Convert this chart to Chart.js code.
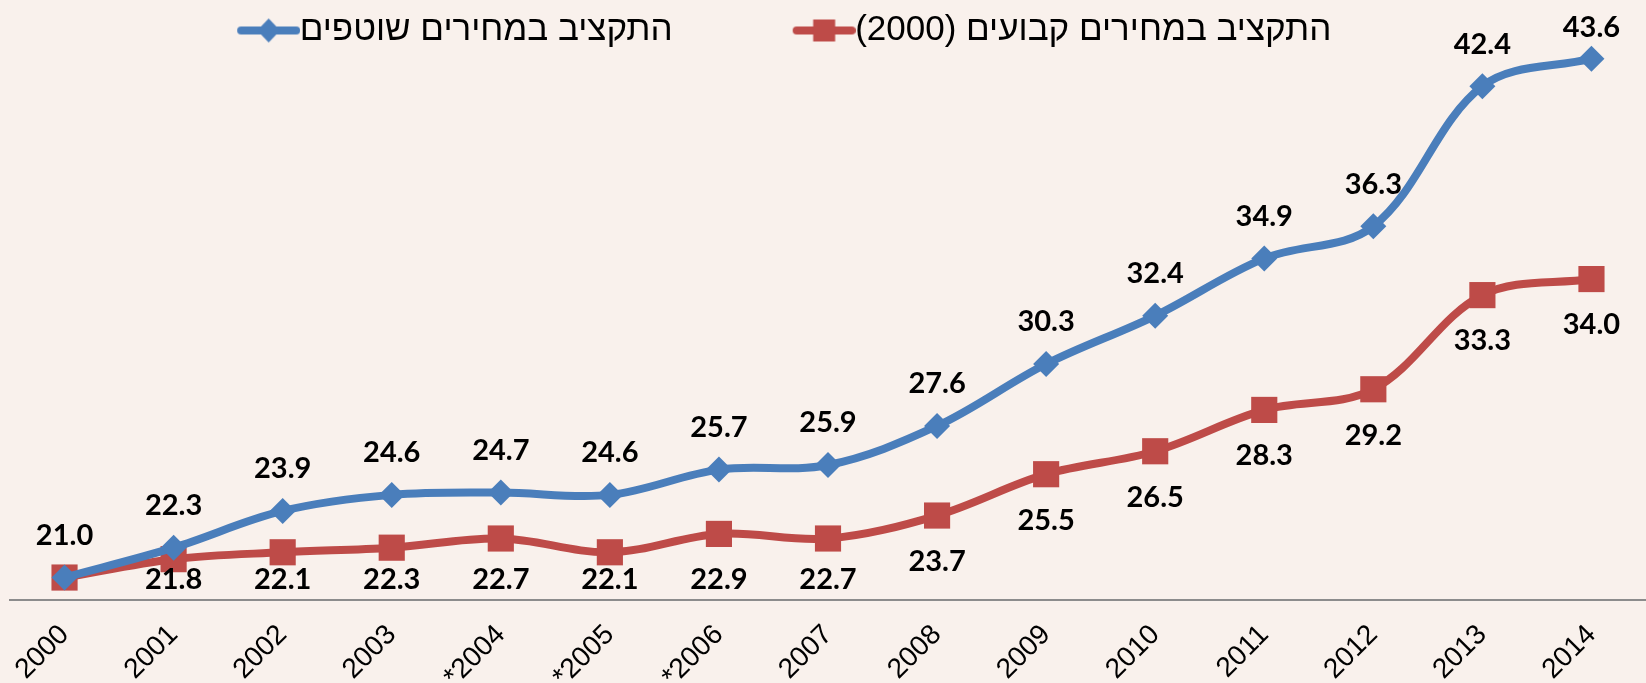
<!DOCTYPE html>
<html>
<head>
<meta charset="utf-8">
<script src="https://cdn.jsdelivr.net/npm/chart.js@4.4.1/dist/chart.umd.min.js"></script>
<style>
html,body{margin:0;padding:0;background:#f9f1ec;}
#wrap{width:1646px;height:683px;position:relative;}
</style>
</head>
<body>
<div id="wrap"><canvas id="graph"></canvas></div>
<script>
const years=["2000","2001","2002","2003","*2004","*2005","*2006","2007","2008","2009","2010","2011","2012","2013","2014"];
const shotfim=[21.0,22.3,23.9,24.6,24.7,24.6,25.7,25.9,27.6,30.3,32.4,34.9,36.3,42.4,43.6];
const kvuim=[21.0,21.8,22.1,22.3,22.7,22.1,22.9,22.7,23.7,25.5,26.5,28.3,29.2,33.3,34.0];

const blue="#4a7ebb";
const red="#be4b48";
const pxPerUnit=22.96;

// legend icon: line with marker, drawn in the right part of the image
function legendIcon(color,shape){
    const c=document.createElement("canvas");
    c.width=81;c.height=28;
    const ctx=c.getContext("2d");
    ctx.strokeStyle=color;
    ctx.lineWidth=8;
    ctx.lineCap="round";
    ctx.beginPath();
    ctx.moveTo(22,14);ctx.lineTo(77,14);
    ctx.stroke();
    ctx.fillStyle=color;
    ctx.beginPath();
    if(shape=="diamond"){
        ctx.moveTo(49.5,2);ctx.lineTo(61,14);ctx.lineTo(49.5,26);ctx.lineTo(38,14);
    }else{
        ctx.rect(38.5,3,22,22);
    }
    ctx.fill();
    return c;
}

// keep the same vertical scale whatever height the legend takes
const fixScale={
    id:"fixScale",
    afterLayout(chart){
        const y=chart.scales.y;
        y.max=20+(y.bottom-y.top)/pxPerUnit;
        y.configure();
    }
};

const valueLabels={
    id:"valueLabels",
    afterDatasetsDraw(chart){
        const ctx=chart.ctx;
        ctx.save();
        ctx.font="bold 29px Lato, 'Open Sans', sans-serif";
        ctx.fillStyle="#000";
        ctx.textAlign="center";
        ctx.textBaseline="middle";
        chart.data.datasets.forEach((ds,i)=>{
            const meta=chart.getDatasetMeta(i);
            meta.data.forEach((pt,j)=>{
                let y;
                if(i==0){
                    y=Math.max(pt.y-42,28);
                }else{
                    if(ds.data[j]==shotfim[j]) return; // same point, label shown once
                    y=Math.min(pt.y+46,580);
                }
                ctx.fillText(ds.data[j].toFixed(1),pt.x,y);
            });
        });
        ctx.restore();
    }
};

const data={
    labels:years,
    datasets:[{
        label:"התקציב במחירים שוטפים",
        data:shotfim,
        borderColor:blue,
        backgroundColor:blue,
        borderWidth:8,
        pointStyle:"rectRot",
        pointRadius:13,
        pointBorderWidth:0,
        tension:0.35,
        clip:false
    },{
        label:"התקציב במחירים קבועים (2000)",
        data:kvuim,
        borderColor:red,
        backgroundColor:red,
        borderWidth:8,
        pointStyle:"rect",
        pointRadius:18.5,
        pointBorderWidth:0,
        tension:0.35,
        clip:false
    }]
};

const icons=[legendIcon(blue,"diamond"),legendIcon(red,"square")];
const gaps=["           ","         "];

new Chart("graph",{
    type:"line",
    data,
    options:{
        responsive:true,
        maintainAspectRatio:false,
        animation:false,
        layout:{autoPadding:false,padding:{left:10,right:0,top:0,bottom:-21}},
        plugins:{
            legend:{
                position:"top",
                labels:{
                    usePointStyle:true,
                    pointStyleWidth:45,
                    padding:13,
                    color:"#000",
                    font:{family:"'Liberation Sans', Arial, sans-serif",size:35},
                    generateLabels(chart){
                        return chart.data.datasets.map((ds,i)=>({
                            text:"\u202B"+ds.label+"\u202C"+gaps[i],
                            pointStyle:icons[i],
                            fillStyle:ds.borderColor,
                            strokeStyle:ds.borderColor,
                            lineWidth:0,
                            datasetIndex:i
                        }));
                    }
                }
            },
            tooltip:{enabled:false}
        },
        scales:{
            x:{
                offset:true,
                grid:{display:false},
                border:{display:true,color:"#8c8c8c",width:2},
                ticks:{
                    color:"#000",
                    padding:10,
                    minRotation:45,
                    maxRotation:45,
                    autoSkip:false,
                    font:{family:"'Liberation Sans', Arial, sans-serif",size:28}
                },
                afterFit(scale){
                    scale.paddingLeft=0;
                    scale.paddingRight=0;
                }
            },
            y:{
                display:false,
                min:20,
                max:45
            }
        }
    },
    plugins:[fixScale,valueLabels]
});
</script>
</body>
</html>
